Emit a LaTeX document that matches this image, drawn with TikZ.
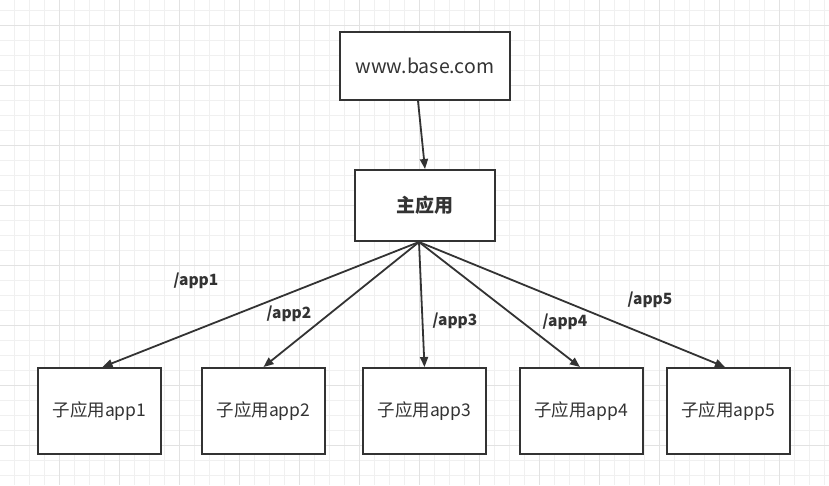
\documentclass[tikz,border=0pt]{standalone}
\usepackage{fontspec}
\setmainfont{Noto Sans CJK SC}
\usetikzlibrary{arrows.meta}
\definecolor{ink}{HTML}{333333}
\definecolor{gridminor}{HTML}{F0F0F0}
\definecolor{gridmajor}{HTML}{E2E2E2}
\tikzset{
  box/.style={draw=ink, line width=2pt, fill=white, inner sep=0pt, text=ink,
    font=\fontsize{17.5}{20}\selectfont},
  link/.style={draw=ink, line width=1.8pt, -{Triangle[length=10pt,width=8pt]}},
  lbl/.style={text=ink, font=\fontsize{15.5}{18}\selectfont\bfseries, inner sep=0pt},
}
\begin{document}
\begin{tikzpicture}[x=1pt,y=-1pt]
\useasboundingbox (0,0) rectangle (829,485);
\fill[white] (0,0) rectangle (829,485);
\foreach \x in {14,29,...,829} \draw[gridminor, line width=1pt] (\x,0) -- (\x,485);
\foreach \y in {10,25,...,485} \draw[gridminor, line width=1pt] (0,\y) -- (829,\y);
\foreach \x in {59,119,...,829} \draw[gridmajor, line width=1pt] (\x,0) -- (\x,485);
\foreach \y in {25,85,...,485} \draw[gridmajor, line width=1pt] (0,\y) -- (829,\y);

\node[box, minimum width=170pt, minimum height=68pt, font=\fontsize{19.5}{22}\selectfont] (www) at (425,66) {www.base.com};
\node[box, minimum width=140pt, minimum height=71pt, font=\fontsize{19}{22}\selectfont\bfseries] (main) at (425,205.5) {主应用};

\node[box, minimum width=123pt, minimum height=86pt] (a1) at (99.5,411) {子应用app1};
\node[box, minimum width=123pt, minimum height=86pt] (a2) at (263.5,411) {子应用app2};
\node[box, minimum width=123pt, minimum height=86pt] (a3) at (424.5,411) {子应用app3};
\node[box, minimum width=123pt, minimum height=86pt] (a4) at (581,411) {子应用app4};
\node[box, minimum width=123pt, minimum height=86pt] (a5) at (728,411) {子应用app5};

\draw[link] ([xshift=-7pt]www.south) -- (main.north);
\draw[link] ([xshift=-6pt]main.south) -- ([xshift=3pt]a1.north);
\draw[link] ([xshift=-6pt]main.south) -- (a2.north);
\draw[link] ([xshift=-6pt]main.south) -- (a3.north);
\draw[link] ([xshift=-6pt]main.south) -- ([xshift=-1pt]a4.north);
\draw[link] ([xshift=-6pt]main.south) -- ([xshift=-3pt]a5.north);

\node[lbl] (l1) at (196,281) {/app1};
\node[lbl] (l2) at (289,314) {/app2};
\node[lbl] (l3) at (455,321) {/app3};
\node[lbl] (l4) at (565,322) {/app4};
\node[lbl] (l5) at (650,300) {/app5};
\end{tikzpicture}
\end{document}
